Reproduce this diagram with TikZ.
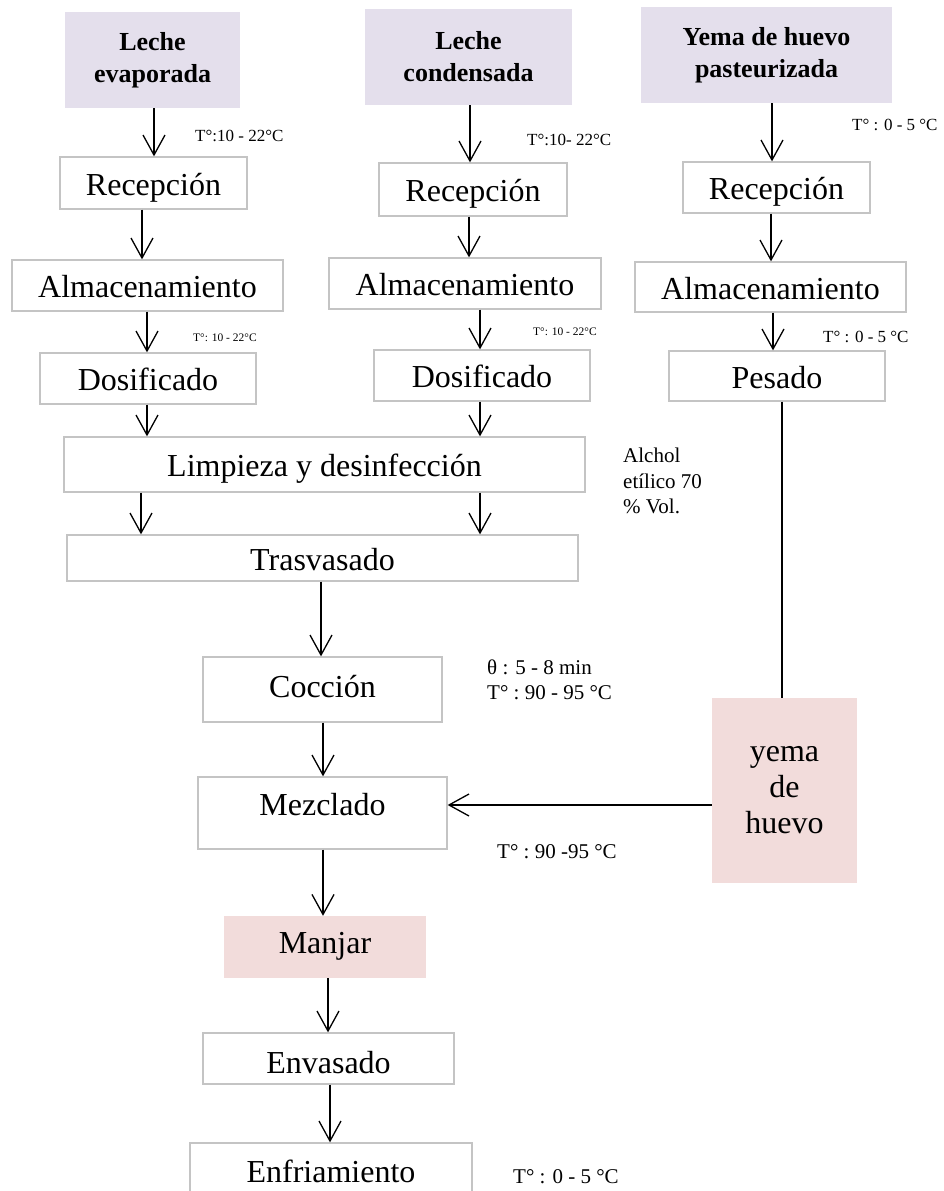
\documentclass[tikz,border=0pt]{standalone}
\usepackage{fontspec}
\setmainfont{Liberation Serif}
\usetikzlibrary{arrows.meta}

\definecolor{srcpurple}{HTML}{E4DFEC}
\definecolor{prodpink}{HTML}{F2DCDB}
\definecolor{boxgray}{HTML}{C4C4C4}

\newcommand\fStep{\fontsize{32}{36}\selectfont}
\newcommand\fHead{\fontsize{26}{32}\selectfont\bfseries}
\newcommand\fNote{\fontsize{21}{25.5}\selectfont}
\newcommand\fSmall{\fontsize{17}{19}\selectfont}
\newcommand\fTiny{\fontsize{11.5}{13}\selectfont}

\tikzset{
  stepbox/.style={draw=boxgray, line width=1.3pt, fill=white, inner sep=0pt,
    font=\fStep, align=center, text height=24pt, text depth=0pt},
  srcbox/.style={fill=srcpurple, draw=none, inner sep=0pt, font=\fHead, align=center},
  prodbox/.style={fill=prodpink, draw=none, inner sep=0pt, font=\fStep, align=center},
  drop/.style={text height=#1, text depth=0pt},
  flow/.style={line width=1.3pt,
    -{Straight Barb[length=20pt,width=22pt,line width=1.3pt]}},
  link/.style={line width=1.3pt},
  note/.style={anchor=west, inner sep=0pt, align=left}
}

\begin{document}
\begin{tikzpicture}[x=1pt,y=-1pt]
\path[use as bounding box] (0,0) rectangle (944,1191);
\clip (0,0) rectangle (944,1191);

% raw materials
\node[srcbox, minimum width=175pt, minimum height=96pt] (evap) at (152.5,60) {Leche\\evaporada};
\node[srcbox, minimum width=207pt, minimum height=96pt] (cond) at (468.5,57) {Leche\\condensada};
\node[srcbox, minimum width=251pt, minimum height=96pt] (yemap) at (766.5,55) {Yema de huevo\\pasteurizada};

% reception
\node[stepbox, minimum width=187pt, minimum height=52pt] (rec1) at (153.5,183) {Recepción};
\node[stepbox, minimum width=188pt, minimum height=53pt] (rec2) at (473,189.5) {Recepción};
\node[stepbox, minimum width=187pt, minimum height=51pt] (rec3) at (776.5,187.5) {Recepción};

% storage
\node[stepbox, minimum width=271pt, minimum height=51pt] (alm1) at (147.5,285.5) {Almacenamiento};
\node[stepbox, minimum width=272pt, minimum height=51pt] (alm2) at (465,283.5) {Almacenamiento};
\node[stepbox, minimum width=271pt, minimum height=50pt] (alm3) at (770.5,287) {Almacenamiento};

% dosing / weighing
\node[stepbox, minimum width=216pt, minimum height=51pt] (dos1) at (148,378.5) {Dosificado};
\node[stepbox, minimum width=216pt, minimum height=51pt] (dos2) at (482,375.5) {Dosificado};
\node[stepbox, minimum width=216pt, minimum height=50pt] (pes) at (777,376) {Pesado};

% common line
\node[stepbox, minimum width=521pt, minimum height=55pt] (limp) at (324.5,464.5) {Limpieza y desinfección};
\node[stepbox, minimum width=511pt, minimum height=46pt] (tras) at (322.5,558) {Trasvasado};
\node[stepbox, drop=15pt, minimum width=239pt, minimum height=65pt] (coc) at (322.5,689.5) {Cocción};
\node[stepbox, drop=4pt, minimum width=249pt, minimum height=72pt] (mez) at (322.5,813) {Mezclado};
\node[prodbox, drop=12pt, minimum width=202pt, minimum height=62pt] (manj) at (325,947) {Manjar};
\node[stepbox, drop=29pt, minimum width=251pt, minimum height=51pt] (env) at (328.5,1058.5) {Envasado};
\node[stepbox, drop=20pt, minimum width=282pt, minimum height=58pt] (enf) at (331,1172) {Enfriamiento};

% egg yolk
\node[prodbox, minimum width=145pt, minimum height=185pt] (yemab) at (784.5,790.5) {yema\\de\\huevo};

% process conditions
\node[note, font=\fSmall] (t1) at (195,136) {T°:10 - 22°C};
\node[note, font=\fSmall] (t2) at (527,140) {T°:10- 22°C};
\node[note, font=\fSmall] (t3) at (852,125) {T° : 0 - 5 °C};
\node[note, font=\fTiny] (t4) at (193,338) {T°: 10 - 22°C};
\node[note, font=\fTiny] (t5) at (533,332) {T°: 10 - 22°C};
\node[note, font=\fSmall] (t6) at (823,337) {T° : 0 - 5 °C};
\node[note, font=\fNote] (alc) at (623,481) {Alchol\\etílico 70\\\% Vol.};
\node[note, font=\fNote] (tcoc) at (487,680) {θ : 5 - 8 min\\T° :\ 90 - 95 °C};
\node[note, font=\fNote] (tmez) at (497,852) {T° :\ 90 -95 °C};
\node[note, font=\fNote] (tenf) at (513,1177) {T° : 0 - 5 °C};

% flow, left column
\draw[flow] (evap.south -| 154,0) -- (rec1.north -| 154,0);
\draw[flow] (rec1.south -| 142,0) -- (alm1.north -| 142,0);
\draw[flow] (alm1.south -| 147,0) -- (dos1.north -| 147,0);
\draw[flow] (dos1.south -| 147,0) -- (limp.north -| 147,0);
\draw[flow] (limp.south -| 141,0) -- (tras.north -| 141,0);

% flow, middle column
\draw[flow] (cond.south -| 470,0) -- (rec2.north -| 470,0);
\draw[flow] (rec2.south -| 469,0) -- (alm2.north -| 469,0);
\draw[flow] (alm2.south -| 480,0) -- (dos2.north -| 480,0);
\draw[flow] (dos2.south -| 480,0) -- (limp.north -| 480,0);
\draw[flow] (limp.south -| 480,0) -- (tras.north -| 480,0);

% flow, right column
\draw[flow] (yemap.south -| 772,0) -- (rec3.north -| 772,0);
\draw[flow] (rec3.south -| 771,0) -- (alm3.north -| 771,0);
\draw[flow] (alm3.south -| 773,0) -- (pes.north -| 773,0);
\draw[link] (pes.south -| 782,0) -- (yemab.north -| 782,0);

% flow, main line
\draw[flow] (tras.south -| 321,0) -- (coc.north -| 321,0);
\draw[flow] (coc.south -| 323,0) -- (mez.north -| 323,0);
\draw[flow] (yemab.west |- 0,805) -- (mez.east |- 0,805);
\draw[flow] (mez.south -| 323,0) -- (manj.north -| 323,0);
\draw[flow] (manj.south -| 328,0) -- (env.north -| 328,0);
\draw[flow] (env.south -| 330,0) -- (enf.north -| 330,0);
\end{tikzpicture}
\end{document}
